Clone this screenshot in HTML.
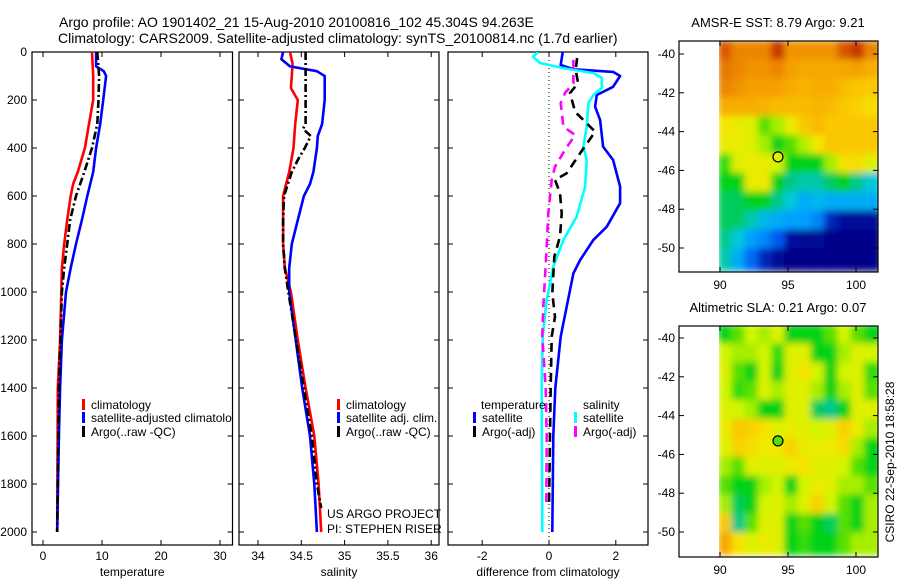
<!DOCTYPE html>
<html><head><meta charset="utf-8">
<style>
html,body{margin:0;padding:0;background:#fff;}
svg{display:block;font-family:"Liberation Sans",sans-serif;}
text{fill:#000;}
</style></head>
<body>
<svg id="fig" width="900" height="580" viewBox="0 0 900 580">
<defs>
<clipPath id="c1"><rect x="32" y="52" width="200.5" height="493"/></clipPath>
<clipPath id="c2"><rect x="239" y="52" width="200" height="493"/></clipPath>
<clipPath id="c3"><rect x="448" y="52" width="200" height="493"/></clipPath>
<clipPath id="cm1"><rect x="719" y="41" width="159" height="231"/></clipPath>
<clipPath id="cm2"><rect x="719" y="326" width="159" height="231"/></clipPath>
<filter id="blur" x="-5%" y="-5%" width="110%" height="110%"><feGaussianBlur stdDeviation="3.5"/></filter>
</defs>
<text x="59" y="27" font-size="14">Argo profile: AO 1901402_21 15-Aug-2010 20100816_102 45.304S 94.263E</text>
<text x="58" y="43" font-size="14">Climatology: CARS2009. Satellite-adjusted climatology: synTS_20100814.nc (1.7d earlier)</text>
<g id="layer"></g>
<text transform="translate(894,462) rotate(-90)" font-size="12" text-anchor="middle">CSIRO 22-Sep-2010 18:58:28</text>
</svg>
<script>
// ---------- data ----------
const depthTicks=[0,200,400,600,800,1000,1200,1400,1600,1800,2000];
const tempTicks=[0,10,20,30];
const salTicks=[34,34.5,35,35.5,36];
const diffTicks=[-2,0,2];
const tClimZ=[0,100,200,300,400,500,550,600,700,800,900,1000,1200,1400,2000];
const tClim=[8.3,8.5,8.5,7.8,7.1,5.9,5.1,4.7,4.1,3.6,3.2,3.1,2.9,2.5,2.4];
const tSatZ=[0,60,80,100,200,300,400,500,600,700,800,900,1000,1200,1400,1600,2000];
const tSat=[9.0,9.0,10.3,10.7,10.2,9.7,9.0,8.5,7.5,6.6,5.6,4.7,3.9,3.2,2.9,2.7,2.4];
const tArgoZ=[0,100,200,300,400,500,600,700,800,900,1000,1400,2000];
const tArgo=[9.2,9.5,9.4,9.2,8.3,7.0,5.6,4.6,4.1,3.6,3.2,2.7,2.4];
const sClimZ=[0,50,100,150,200,300,400,500,600,700,800,900,1000,1200,1400,1600,1800,2000];
const sClim=[34.37,34.40,34.39,34.38,34.46,34.43,34.41,34.36,34.29,34.29,34.29,34.31,34.38,34.46,34.55,34.65,34.70,34.73];
const sSatZ=[0,30,60,80,100,200,300,350,400,500,550,600,700,800,900,1000,1400,1600,1800,2000];
const sSat=[34.29,34.27,34.37,34.68,34.77,34.77,34.74,34.69,34.68,34.64,34.60,34.53,34.46,34.39,34.36,34.36,34.51,34.60,34.65,34.68];
const sArgoZ=[0,300,320,350,400,450,500,600,700,800,900,1000,1400,1600,1800,1900];
const sArgo=[34.55,34.55,34.52,34.61,34.54,34.46,34.39,34.30,34.29,34.29,34.31,34.35,34.53,34.62,34.68,34.73];
const dTSatZ=[0,54,72,83,100,145,179,228,283,394,450,561,630,728,783,867,922,1061,1186,1400,1600,2000];
const dTSat=[0.41,0.35,0.74,1.92,2.13,1.92,1.43,1.38,1.53,1.62,1.92,2.13,2.13,1.73,1.33,0.93,0.73,0.53,0.35,0.19,0.13,0.10];
const dSSatZ=[0,20,46,67,88,108,150,179,213,311,394,450,561,686,783,894,1033,1186,1400,2000];
const dSSat=[-0.33,-0.48,-0.27,0.43,1.33,1.58,1.58,1.33,1.18,1.13,1.03,1.13,1.08,0.83,0.43,0.13,-0.07,-0.19,-0.22,-0.20];
const dTArgoZ=[25,75,130,171,249,297,332,422,505,533,588,672,769,853,1005,1103,1186,1400,1600,1900];
const dTArgo=[0.84,0.80,0.87,0.63,0.78,1.13,1.38,0.93,0.53,0.18,0.33,0.38,0.33,0.16,0.10,0.18,0.08,0.05,0.03,0.0];
const dSArgoZ=[33,75,130,171,213,311,346,408,478,533,672,867,1061,1186,1400,1600,1900];
const dSArgo=[0.73,0.73,0.73,0.48,0.35,0.43,0.78,0.48,0.18,0.08,-0.02,-0.09,-0.17,-0.20,-0.10,-0.07,-0.08];
const latTicks=[-40,-42,-44,-46,-48,-50];
const lonTicks=[90,95,100];
const sstGrid=[
[0.85,0.8,0.8,0.8,0.88,0.78,0.78,0.78,0.78,0.85,0.88,0.8],
[0.82,0.8,0.78,0.78,0.8,0.76,0.75,0.75,0.75,0.75,0.76,0.74],
[0.8,0.78,0.76,0.76,0.76,0.74,0.73,0.74,0.74,0.72,0.7,0.7],
[0.74,0.74,0.74,0.73,0.72,0.72,0.72,0.73,0.72,0.7,0.68,0.66],
[0.64,0.62,0.6,0.5,0.55,0.62,0.7,0.72,0.7,0.7,0.7,0.7],
[0.62,0.62,0.6,0.55,0.45,0.5,0.56,0.64,0.7,0.7,0.7,0.7],
[0.48,0.6,0.62,0.62,0.58,0.45,0.45,0.45,0.55,0.65,0.66,0.6],
[0.45,0.45,0.62,0.62,0.45,0.4,0.38,0.38,0.42,0.45,0.4,0.35],
[0.42,0.42,0.45,0.45,0.4,0.35,0.3,0.32,0.3,0.3,0.3,0.3],
[0.42,0.42,0.38,0.32,0.3,0.28,0.28,0.25,0.15,0.1,0.08,0.1],
[0.4,0.35,0.28,0.25,0.2,0.12,0.08,0.08,0.05,0.05,0.05,0.05],
[0.38,0.3,0.22,0.15,0.08,0.05,0.05,0.05,0.05,0.05,0.05,0.05]];
const slaGrid=[
[0.45,0.5,0.58,0.55,0.6,0.45,0.45,0.45,0.5,0.58,0.5,0.45],
[0.58,0.55,0.55,0.58,0.48,0.6,0.6,0.45,0.45,0.55,0.6,0.58],
[0.6,0.5,0.45,0.58,0.45,0.6,0.65,0.58,0.45,0.58,0.6,0.48],
[0.58,0.48,0.5,0.6,0.55,0.6,0.6,0.55,0.45,0.55,0.6,0.5],
[0.6,0.58,0.55,0.45,0.45,0.6,0.6,0.42,0.4,0.45,0.6,0.6],
[0.62,0.7,0.68,0.65,0.6,0.62,0.6,0.58,0.6,0.68,0.62,0.55],
[0.6,0.68,0.66,0.63,0.63,0.68,0.62,0.62,0.62,0.66,0.55,0.45],
[0.55,0.5,0.6,0.6,0.6,0.62,0.65,0.6,0.6,0.58,0.5,0.45],
[0.5,0.45,0.45,0.55,0.58,0.45,0.58,0.62,0.6,0.55,0.55,0.5],
[0.55,0.42,0.45,0.58,0.6,0.55,0.6,0.68,0.58,0.5,0.45,0.55],
[0.7,0.4,0.5,0.6,0.6,0.45,0.5,0.45,0.42,0.5,0.45,0.55],
[0.75,0.65,0.6,0.62,0.6,0.45,0.48,0.45,0.45,0.5,0.55,0.55]];
const gridLon0=90, gridLat0=-39.4, gridStep=0.975;
const floatLon=94.263, floatLat=-45.304;

// ---------- helpers ----------
const NS="http://www.w3.org/2000/svg";
const layer=document.getElementById('layer');
function mk(tag,attrs,parent){const e=document.createElementNS(NS,tag);for(const k in attrs)e.setAttribute(k,attrs[k]);(parent||layer).appendChild(e);return e;}
const yDepth=z=>52+0.24*z;
const xT=v=>43+5.9*v;
const xS=v=>258+86.6*(v-34);
const xD=v=>549+33.4*v;

function panelBox(x0,x1,name,xticks,xfn,xlabel){
  const g=mk('g',{});
  
  
  mk('rect',{x:x0,y:52,width:x1-x0,height:493,fill:'none',stroke:'#000','stroke-width':1.2},g);
  depthTicks.forEach(z=>{const y=yDepth(z);
    mk('line',{x1:x0,x2:x0+5,y1:y,y2:y,stroke:'#000'},g);
    mk('line',{x1:x1,x2:x1-5,y1:y,y2:y,stroke:'#000'},g);});
  xticks.forEach(v=>{const x=xfn(v);
    mk('line',{x1:x,x2:x,y1:52,y2:57,stroke:'#000'},g);
    mk('line',{x1:x,x2:x,y1:545,y2:540,stroke:'#000'},g);
    const t=mk('text',{x:x,y:560,'font-size':12,'text-anchor':'middle'},g);t.textContent=v;
    
    });
  const t=mk('text',{x:(x0+x1)/2,y:576,'font-size':12,'text-anchor':'middle'},g);t.textContent=xlabel;
  
  
  return g;
}
function series(zs,vs,xfn,color,dash,clip,name){
  const d=zs.map((z,i)=>(i?'L':'M')+xfn(vs[i]).toFixed(1)+','+yDepth(z).toFixed(1)).join(' ');
  const p=mk('path',{d:d,fill:'none',stroke:color,'stroke-width':2.6,'stroke-dasharray':dash||'none','clip-path':'url(#'+clip+')','stroke-linejoin':'round'});
  
  
}
function legend(x,y,color,label,clip){
  const g=mk('g',{'clip-path':clip?'url(#'+clip+')':''});
  
  
  mk('rect',{x:x,y:y-10,width:3,height:11,fill:color},g);
  const t=mk('text',{x:x+9,y:y,'font-size':12},g);t.textContent=label;
}
// ---------- profile panels ----------
panelBox(32,232.5,'temperature-panel',tempTicks,xT,'temperature');
depthTicks.forEach(z=>{const t=mk('text',{x:27,y:yDepth(z)+4,'font-size':12,'text-anchor':'end'});t.textContent=z;
  
  });
series(tClimZ,tClim,xT,'#ff0000','','c1','temp-climatology-line');
series(tSatZ,tSat,xT,'#0000ff','','c1','temp-satellite-line');
series(tArgoZ,tArgo,xT,'#000000','8,3,2,3','c1','temp-argo-line');
legend(82,409,'#ff0000','climatology','c1');
legend(82,422,'#0000ff','satellite-adjusted climatology','c1');
legend(82,436,'#000000','Argo(..raw -QC)','c1');

panelBox(239,439,'salinity-panel',salTicks,xS,'salinity');
series(sClimZ,sClim,xS,'#ff0000','','c2','sal-climatology-line');
series(sSatZ,sSat,xS,'#0000ff','','c2','sal-satellite-line');
series(sArgoZ,sArgo,xS,'#000000','8,3,2,3','c2','sal-argo-line');
legend(337,409,'#ff0000','climatology');
legend(337,422,'#0000ff','satellite adj. clim.');
legend(337,436,'#000000','Argo(..raw -QC)');
let t1=mk('text',{x:327,y:518,'font-size':12});t1.textContent='US ARGO PROJECT';


let t2=mk('text',{x:327,y:533,'font-size':12});t2.textContent='PI: STEPHEN RISER';



panelBox(448,648,'difference-panel',diffTicks,xD,'difference from climatology');
mk('line',{x1:xD(0),x2:xD(0),y1:52,y2:545,stroke:'#000','stroke-width':1,'stroke-dasharray':'1,3'});
series(dTSatZ,dTSat,xD,'#0000ff','','c3','diff-temp-satellite-line');
series(dSSatZ,dSSat,xD,'#00ffff','','c3','diff-sal-satellite-line');
series(dTArgoZ,dTArgo,xD,'#000000','9,6','c3','diff-temp-argo-line');
series(dSArgoZ,dSArgo,xD,'#ff00ff','9,6','c3','diff-sal-argo-line');
let th=mk('text',{x:481,y:409,'font-size':12});th.textContent='temperature';


let sh=mk('text',{x:583,y:409,'font-size':12});sh.textContent='salinity';


legend(473,422,'#0000ff','satellite');
legend(473,436,'#000000','Argo(-adj)');
legend(574,422,'#00ffff','satellite');
legend(574,436,'#ff00ff','Argo(-adj)');

// ---------- maps ----------
const cmapStops=[[0,[0,0,120]],[0.12,[0,10,160]],[0.2,[0,90,240]],[0.28,[0,160,255]],[0.35,[0,200,220]],[0.4,[0,200,140]],[0.45,[0,210,20]],[0.52,[120,230,0]],[0.58,[210,245,0]],[0.64,[245,230,0]],[0.7,[250,200,0]],[0.76,[245,160,0]],[0.82,[230,120,0]],[0.9,[190,30,0]],[1,[140,0,0]]];
function cmap(v){
  for(let i=1;i<cmapStops.length;i++){
    if(v<=cmapStops[i][0]){const a=cmapStops[i-1],b=cmapStops[i];const f=(v-a[0])/(b[0]-a[0]);
      return 'rgb('+a[1].map((c,k)=>Math.round(c+(b[1][k]-c)*f)).join(',')+')';}
  }
  return 'rgb(140,0,0)';
}
function mapPanel(top,bottom,latAt40,grid,clip,name,title,markerVal){
  const pxLat=19.4, pxLon=13.6;
  const yL=lat=>latAt40+(-40-lat)*pxLat;
  const xL=lon=>720+(lon-90)*pxLon;
  const g=mk('g',{});
  
  
  const tt=mk('text',{x:778,y:top-14,'font-size':13,'text-anchor':'middle'},g);tt.textContent=title;
  const cg=mk('g',{'clip-path':'url(#'+clip+')'},g);
  const bg=mk('g',{filter:'url(#blur)'},cg);
  grid.forEach((row,i)=>row.forEach((v,j)=>{
    const x=xL(gridLon0+j*gridStep), y=yL(gridLat0-i*gridStep);
    const c=mk('rect',{x:(x-2).toFixed(1),y:(y-2).toFixed(1),width:(gridStep*pxLon+4).toFixed(1),height:(gridStep*pxLat+4).toFixed(1),fill:cmap(v)},bg);
    
    
  }));
  mk('rect',{x:679,y:top,width:40,height:bottom-top,fill:'#fff'},g);
  mk('rect',{x:679,y:top,width:199,height:bottom-top,fill:'none',stroke:'#000','stroke-width':1.2},g);
  latTicks.forEach(l=>{const y=yL(l);
    mk('line',{x1:679,x2:684,y1:y,y2:y,stroke:'#000'},g);
    mk('line',{x1:878,x2:873,y1:y,y2:y,stroke:'#000'},g);
    const t=mk('text',{x:675,y:y+4,'font-size':12,'text-anchor':'end'},g);t.textContent=l;
    
    });
  lonTicks.forEach(l=>{const x=xL(l);
    mk('line',{x1:x,x2:x,y1:top,y2:top+5,stroke:'#000'},g);
    mk('line',{x1:x,x2:x,y1:bottom,y2:bottom-5,stroke:'#000'},g);
    const t=mk('text',{x:x,y:bottom+17,'font-size':12,'text-anchor':'middle'},g);t.textContent=l;
    
    });
  const m=mk('circle',{cx:xL(floatLon),cy:yL(floatLat),r:5,fill:cmap(markerVal),stroke:'#000','stroke-width':1.2},g);
  
  
}
mapPanel(41,272,54,sstGrid,'cm1','sst-map','AMSR-E SST: 8.79 Argo: 9.21',0.6);
mapPanel(326,557,338,slaGrid,'cm2','sla-map','Altimetric SLA: 0.21 Argo: 0.07',0.5);
</script>
</body></html>
